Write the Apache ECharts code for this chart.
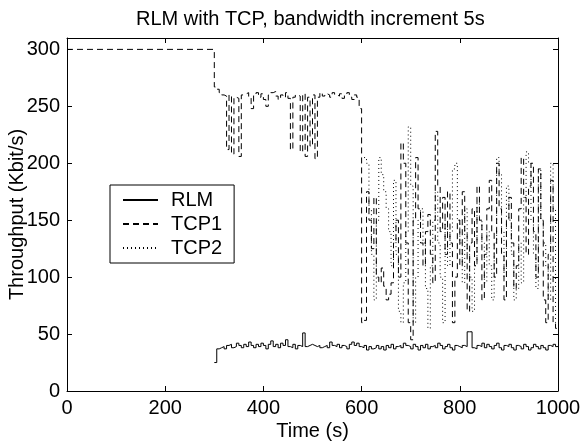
<!DOCTYPE html>
<html>
<head>
<meta charset="utf-8">
<script src="https://cdn.jsdelivr.net/npm/echarts@6/dist/echarts.min.js"></script>
<style>
  html, body { margin: 0; padding: 0; background: #fff; }
  #chart { width: 582px; height: 441px; }
</style>
</head>
<body>
<div id="chart"></div>
<script>
// sample spacing of the traces (s)
var STEP = 5
var xTicks = [0, 200, 400, 600, 800, 1000]
var yTicks = [0, 50, 100, 150, 200, 250, 300]

// TCP1 holds this value from 0 s until tcp1Start
var tcp1Initial = 300
var tcp1Start = 300
var tcp1 = [
  267, 265, 262, 260, 259, 212, 260, 208, 258, 257,
  206, 260, 261, 262, 258, 248, 260, 262, 258, 261,
  256, 250, 260, 262, 263, 259, 256, 260, 258, 262,
  257, 212, 258, 260, 259, 210, 261, 206, 258, 215,
  260, 204, 258, 262, 259, 261, 260, 258, 262, 260,
  259, 261, 257, 260, 262, 258, 256, 260, 258, 248,
  60, 62, 175, 150, 125, 170, 100, 95, 108, 92,
  80, 85, 95, 130, 150, 100, 218, 200, 130, 60,
  45, 150, 205, 160, 130, 110, 140, 155, 120, 95,
  228, 180, 140, 170, 120, 175, 130, 60, 100, 150,
  110, 175, 140, 70, 130, 160, 110, 180, 150, 80,
  120, 160, 185, 140, 100, 200, 160, 120, 80, 150,
  170, 130, 90, 110, 160, 205, 170, 120, 180, 200,
  140, 100, 195, 150, 80, 60, 120, 185, 60, 55
]

var tcp2Start = 605
var tcp2 = [
  205, 200, 160, 120, 80, 150, 205, 190, 175,
  160, 140, 110, 185, 120, 70, 60, 95, 140, 232,
  180, 60, 100, 150, 160, 130, 90, 55, 110, 150,
  175, 130, 100, 60, 150, 110, 140, 195, 200, 150,
  130, 95, 160, 120, 100, 70, 110, 165, 150, 130,
  95, 140, 110, 80, 130, 205, 190, 140, 100, 180,
  150, 120, 80, 90, 130, 95, 170, 210, 200, 150,
  120, 90, 195, 150, 130, 110, 80, 200, 160, 60
]

var rlmStart = 300
var rlm = [
  25, 37, 38, 39, 37, 40, 41, 38, 39, 42,
  40, 38, 41, 39, 43, 40, 38, 41, 39, 42,
  40, 37, 41, 44, 39, 41, 38, 42, 40, 45,
  39, 38, 41, 37, 40, 39, 51, 39, 40, 41,
  40, 39, 40, 38, 39, 40, 38, 43, 40, 39,
  41, 38, 40, 39, 37, 41, 43, 40, 42, 39,
  38, 40, 36, 39, 37, 38, 40, 37, 39, 36,
  40, 38, 41, 37, 39, 40, 38, 42, 40, 39,
  37, 41, 39, 36, 40, 38, 41, 37, 39, 40,
  38, 42, 40, 37, 39, 41, 38, 36, 40, 39,
  38, 40, 39, 52, 52, 38, 37, 40, 39, 42,
  38, 41, 39, 37, 40, 42, 38, 36, 40, 39,
  41, 38, 36, 40, 39, 37, 41, 39, 36, 38,
  41, 39, 37, 40, 38, 36, 40, 39, 41, 39
]

var END_TIME = 1000
var Y_MAX = 310

function toPoints (start, values) {
  var pts = []
  values.forEach(function (v, i) {
    pts.push([start + i * STEP, v])
  })
  // hold the last sample until the end of the run
  pts.push([END_TIME, values[values.length - 1]])
  return pts
}

var tcp1Points = [[0, tcp1Initial]].concat(toPoints(tcp1Start, tcp1))

var font = 'Liberation Sans, Arial, Helvetica, sans-serif'

function boxAxis (pos, ticks, max) {
  return {
    type: 'value',
    position: pos,
    min: ticks[0],
    max: max,
    interval: ticks[1] - ticks[0],
    axisLine: { show: true, onZero: false, lineStyle: { color: '#000', width: 1 } },
    axisTick: { show: true, inside: true, length: 5, lineStyle: { color: '#000' } },
    axisLabel: { show: false },
    splitLine: { show: false }
  }
}

var option = {
  animation: false,
  backgroundColor: '#fff',
  title: {
    text: 'RLM with TCP, bandwidth increment 5s',
    left: 131,
    top: 4,
    textStyle: { fontFamily: font, fontSize: 20, fontWeight: 'normal', color: '#000' }
  },
  legend: {
    orient: 'vertical',
    left: 110,
    top: 185,
    padding: [5, 12, 5, 12],
    itemWidth: 35,
    itemHeight: 14,
    itemGap: 4,
    borderColor: '#000',
    borderWidth: 1,
    backgroundColor: '#fff',
    itemStyle: { opacity: 0 },
    textStyle: { fontFamily: font, fontSize: 20, color: '#000', padding: [0, 0, 0, 8] },
    data: ['RLM', 'TCP1', 'TCP2']
  },
  grid: {
    left: 67,
    right: 24,
    top: 38,
    bottom: 50,
    containLabel: false,
    outerBoundsMode: 'none'
  },
  xAxis: [{
    type: 'value',
    min: xTicks[0],
    max: END_TIME,
    interval: xTicks[1] - xTicks[0],
    name: 'Time (s)',
    nameLocation: 'middle',
    nameGap: 30,
    nameMoveOverlap: false,
    nameTextStyle: { fontFamily: font, fontSize: 20, color: '#000' },
    axisLine: { show: true, onZero: false, lineStyle: { color: '#000', width: 1 } },
    axisTick: { show: true, inside: true, length: 5, lineStyle: { color: '#000' } },
    axisLabel: {
      fontFamily: font, fontSize: 20, color: '#000', margin: 7,
      formatter: function (v) { return String(v) }
    },
    splitLine: { show: false }
  }, boxAxis('top', xTicks, END_TIME)],
  yAxis: [{
    type: 'value',
    min: yTicks[0],
    max: Y_MAX,
    interval: yTicks[1] - yTicks[0],
    name: 'Throughput (Kbit/s)',
    nameLocation: 'middle',
    nameGap: 40,
    nameMoveOverlap: false,
    nameTextStyle: { fontFamily: font, fontSize: 20, color: '#000' },
    axisLine: { show: true, onZero: false, lineStyle: { color: '#000', width: 1 } },
    axisTick: { show: true, inside: true, length: 5, lineStyle: { color: '#000' } },
    axisLabel: {
      fontFamily: font, fontSize: 20, color: '#000', margin: 7,
      formatter: function (v) { return String(v) }
    },
    splitLine: { show: false }
  }, boxAxis('right', yTicks, Y_MAX)],
  series: [{
    name: 'RLM',
    type: 'line',
    step: 'end',
    symbol: 'none',
    data: toPoints(rlmStart, rlm),
    itemStyle: { color: '#000' },
    lineStyle: { color: '#000', width: 1, type: 'solid' }
  }, {
    name: 'TCP1',
    type: 'line',
    step: 'end',
    symbol: 'none',
    data: tcp1Points,
    itemStyle: { color: '#000' },
    lineStyle: { color: '#000', width: 1, type: [6, 4] }
  }, {
    name: 'TCP2',
    type: 'line',
    step: 'end',
    symbol: 'none',
    data: toPoints(tcp2Start, tcp2),
    itemStyle: { color: '#000' },
    lineStyle: { color: '#000', width: 1, type: [1, 3] }
  }]
}

var myChart = echarts.init(document.getElementById('chart'))
myChart.setOption(option)
window.addEventListener('resize', function () {
  myChart.resize()
})
</script>
</body>
</html>
